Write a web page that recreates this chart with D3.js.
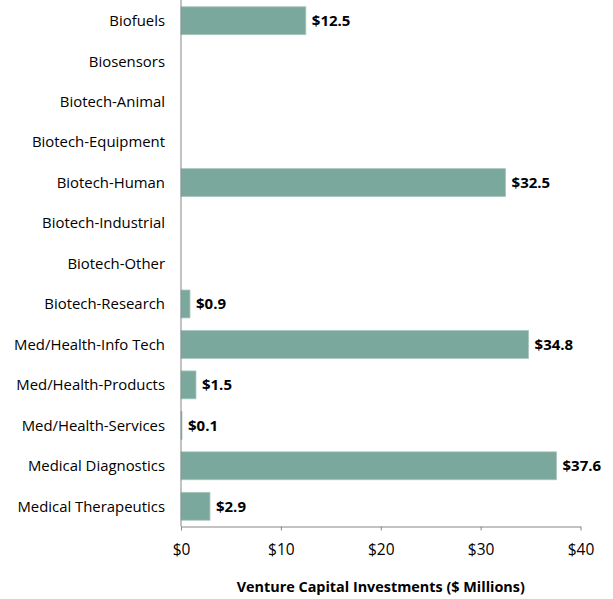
<!DOCTYPE html>
<html><head><meta charset="utf-8">
<script src="https://cdn.jsdelivr.net/npm/d3@7"></script>
<style>body{margin:0;background:#fff}svg{display:block}text{font-family:"Open Sans",Lato,sans-serif}</style>
</head><body>
<svg id="c" width="613" height="599"></svg>
<script>
const categories = ["Biofuels","Biosensors","Biotech-Animal","Biotech-Equipment","Biotech-Human","Biotech-Industrial","Biotech-Other","Biotech-Research","Med/Health-Info Tech","Med/Health-Products","Med/Health-Services","Medical Diagnostics","Medical Therapeutics"];
const values = [12.5, null, null, null, 32.5, null, null, 0.9, 34.8, 1.5, 0.1, 37.6, 2.9];
const xTicks = [0, 10, 20, 30, 40];
const xTitle = "Venture Capital Investments ($ Millions)";

const svg = d3.select("#c");
const m = {left:181, right:580.5, top:0.5, bottom:526.5};
const x = d3.scaleLinear().domain([0,40]).range([m.left, m.right]);
const y = d3.scaleBand().domain(categories).range([m.top, m.bottom]).paddingInner(0.31).paddingOuter(0.155);
const data = categories.map((c,i)=>({c, v: values[i]}));

svg.append("g").selectAll("rect").data(data.filter(d=>d.v!=null)).join("rect")
  .attr("x", x(0)).attr("y", d=>y(d.c)).attr("width", d=>x(d.v)-x(0)).attr("height", y.bandwidth())
  .attr("fill","#7ba89c").attr("stroke","#a9c7be").attr("stroke-width",0.8);

svg.append("g").selectAll("text").data(data.filter(d=>d.v!=null)).join("text")
  .attr("x", d=>x(d.v)+6).attr("y", d=>y(d.c)+y.bandwidth()/2).attr("dy","0.36em")
  .attr("font-size",15).attr("font-weight","bold").attr("fill","#000")
  .text(d=>"$"+d.v.toFixed(1));

// category labels
svg.append("g").selectAll("text").data(categories).join("text")
  .attr("x", m.left-16).attr("y", d=>y(d)+y.bandwidth()/2).attr("dy","0.36em")
  .attr("text-anchor","end").attr("font-size",14.9).attr("fill","#000").text(d=>d);

// y axis line
svg.append("line").attr("x1",m.left).attr("x2",m.left).attr("y1",0).attr("y2",m.bottom)
  .attr("stroke","#868686").attr("stroke-width",1);

// x axis
const xa = svg.append("g").attr("transform",`translate(0,${m.bottom})`)
  .call(d3.axisBottom(x).tickValues(xTicks).tickSize(4).tickSizeOuter(0).tickFormat(d=>"$"+d));
xa.select(".domain").attr("stroke","#868686");
xa.selectAll(".tick line").attr("stroke","#868686");
xa.selectAll(".tick text").attr("font-size",15.5).attr("fill","#000").attr("font-family","'Open Sans',Lato,sans-serif").attr("dy","1.4em");

svg.append("text").attr("x",(m.left+m.right)/2).attr("y",592).attr("text-anchor","middle")
  .attr("font-size",14.4).attr("font-weight","bold").attr("fill","#000").text(xTitle);
</script>
</body></html>
